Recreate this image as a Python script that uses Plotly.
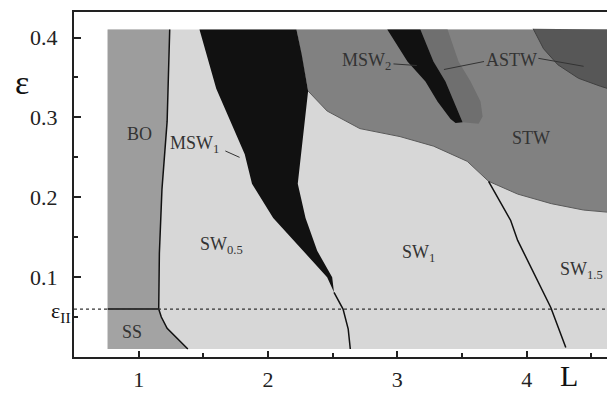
import plotly.graph_objects as go

# ---- region limits (L, epsilon) ----
L_LEFT, L_RIGHT = 0.76, 4.65
EPS_BOTTOM, EPS_TOP = 0.01, 0.41
EPS_II = 0.06

# ---- axis ticks ----
x_ticks = [1, 2, 3, 4]
x_tick_text = ["1", "2", "3", "4"]
x_minor = [1.5, 2.5, 3.5, 4.5]
y_ticks = [0.1, 0.2, 0.3, 0.4]
y_tick_text = ["0.1", "0.2", "0.3", "0.4"]
y_minor = [0.05, 0.15, 0.25, 0.35]

# ---- boundaries ----
bo_L = [1.24, 1.22, 1.18, 1.16, 1.155]
bo_eps = [0.41, 0.295, 0.21, 0.13, 0.06]

ss_L = [1.155, 1.175, 1.22, 1.38]
ss_eps = [0.06, 0.05, 0.036, 0.01]

msw1_left_L = [1.47, 1.60, 1.82, 1.876, 2.04, 2.27, 2.457, 2.51]
msw1_left_eps = [0.41, 0.336, 0.254, 0.217, 0.174, 0.133, 0.10, 0.081]
msw1_right_L = [2.22, 2.26, 2.31, 2.28, 2.25, 2.23, 2.29, 2.38, 2.496, 2.51]
msw1_right_eps = [0.41, 0.379, 0.333, 0.295, 0.245, 0.217, 0.174, 0.133, 0.10, 0.081]

sw1_line_L = [2.51, 2.55, 2.58, 2.62, 2.636]
sw1_line_eps = [0.081, 0.07, 0.06, 0.035, 0.01]

stw_L = [2.31, 2.457, 2.71, 3.02, 3.28, 3.54, 3.705, 3.93, 4.19, 4.44, 4.65]
stw_eps = [0.333, 0.308, 0.286, 0.276, 0.264, 0.245, 0.220, 0.204, 0.192, 0.184, 0.181]

sw15_line_L = [3.705, 3.876, 3.93, 4.054, 4.186, 4.302]
sw15_line_eps = [0.220, 0.171, 0.146, 0.105, 0.062, 0.012]

dark_L = [4.05, 4.13, 4.24, 4.40, 4.57, 4.65]
dark_eps = [0.411, 0.386, 0.366, 0.349, 0.339, 0.335]

msw2_left_L = [2.922, 3.078, 3.217, 3.310, 3.411, 3.45]
msw2_left_eps = [0.41, 0.370, 0.345, 0.320, 0.298, 0.293]
msw2_right_L = [3.178, 3.279, 3.372, 3.434, 3.504]
msw2_right_eps = [0.41, 0.370, 0.345, 0.320, 0.294]

astw_right_L = [3.388, 3.473, 3.566, 3.643, 3.659, 3.628]
astw_right_eps = [0.41, 0.370, 0.345, 0.320, 0.301, 0.292]

# ---- labels ----
region_labels = ["BO", "SS", "MSW<sub>1</sub>", "SW<sub>0.5</sub>", "SW<sub>1</sub>",
                 "SW<sub>1.5</sub>", "STW", "MSW<sub>2</sub>", "ASTW"]
label_L = [1.01, 0.95, 1.43, 1.64, 3.16, 4.42, 4.03, 2.76, 3.88]
label_eps = [0.279, 0.031, 0.266, 0.139, 0.13, 0.108, 0.274, 0.370, 0.372]

leader_L = [[1.67, 1.78], [2.97, 3.15], [3.67, 3.36], [4.09, 4.44]]
leader_eps = [[0.258, 0.250], [0.367, 0.365], [0.370, 0.360], [0.374, 0.364]]

C_SW = "#d7d7d7"
C_BO = "#9d9d9d"
C_SS = "#a3a3a3"
C_STW = "#818181"
C_DARK = "#575757"
C_ASTW = "#6f6f6f"
C_BLACK = "#111111"

fig = go.Figure()


def poly(xs, ys, color):
    fig.add_trace(go.Scatter(x=xs, y=ys, mode="lines", fill="toself", fillcolor=color,
                             line=dict(width=0, color=color), hoverinfo="skip", showlegend=False))


def line(xs, ys, color="#111111", width=1.5):
    fig.add_trace(go.Scatter(x=xs, y=ys, mode="lines", line=dict(color=color, width=width),
                             hoverinfo="skip", showlegend=False))


poly([L_LEFT, L_RIGHT, L_RIGHT, L_LEFT], [EPS_BOTTOM, EPS_BOTTOM, EPS_TOP, EPS_TOP], C_SW)
poly([L_LEFT] + bo_L + [L_LEFT], [EPS_TOP] + bo_eps + [EPS_II], C_BO)
poly([L_LEFT] + ss_L + [L_LEFT], [EPS_II] + ss_eps + [EPS_BOTTOM], C_SS)
poly([2.22] + stw_L + [L_RIGHT], [EPS_TOP] + stw_eps + [EPS_TOP], C_STW)
poly(dark_L + [L_RIGHT], dark_eps + [EPS_TOP], C_DARK)
poly(msw1_left_L + msw1_right_L[::-1], msw1_left_eps + msw1_right_eps[::-1], C_BLACK)
poly(msw2_right_L + astw_right_L[::-1], msw2_right_eps + astw_right_eps[::-1], C_ASTW)
poly(msw2_left_L + msw2_right_L[::-1], msw2_left_eps + msw2_right_eps[::-1], C_BLACK)

line(stw_L, stw_eps, "#5a5a5a", 1)
line(dark_L, dark_eps, "#404040", 1)
line(bo_L, bo_eps)
line(ss_L, ss_eps)
line([L_LEFT, bo_L[-1]], [EPS_II, EPS_II])
line(sw1_line_L, sw1_line_eps)
line(sw15_line_L, sw15_line_eps)

for lx, ly in zip(leader_L, leader_eps):
    line(lx, ly, "#333333", 1)

for txt, lx, ly in zip(region_labels, label_L, label_eps):
    fig.add_annotation(x=lx, y=ly, text=txt, showarrow=False,
                       font=dict(family="Liberation Serif", size=18, color="#333333"))

fig.add_shape(type="line", xref="paper", x0=0, x1=1, yref="y", y0=EPS_II, y1=EPS_II,
              line=dict(color="#333333", width=1.2, dash="dot"))

fig.add_annotation(xref="paper", x=-0.096, xanchor="center", yref="y", y=0.344, yanchor="middle",
                   text="ε", showarrow=False,
                   font=dict(family="Liberation Serif", size=34, color="#111111"))
fig.add_annotation(xref="paper", x=0, xanchor="right", xshift=-1, yref="y", y=EPS_II,
                   yanchor="middle", yshift=-3,
                   text="ε<sub>II</sub>", showarrow=False,
                   font=dict(family="Liberation Serif", size=22, color="#111111"))
fig.add_annotation(xref="x", x=4.33, xanchor="center", yref="paper", y=-0.055, yanchor="middle",
                   text="L", showarrow=False,
                   font=dict(family="Liberation Serif", size=30, color="#111111"))

axis_font = dict(family="Liberation Serif", size=22, color="#222222")
fig.update_xaxes(range=[0.5, 4.667], tickvals=x_ticks, ticktext=x_tick_text,
                 ticks="inside", ticklen=6, tickwidth=1.5, tickcolor="#222222",
                 minor=dict(tickvals=x_minor, ticks="inside", ticklen=4, tickwidth=1.5, tickcolor="#222222"),
                 showline=True, mirror=True, linecolor="#222222", linewidth=2,
                 showgrid=False, zeroline=False, tickfont=axis_font, ticklabelstandoff=2)
fig.update_yaxes(range=[0, 0.432], tickvals=y_ticks, ticktext=y_tick_text,
                 ticks="inside", ticklen=7, tickwidth=1.5, tickcolor="#222222",
                 minor=dict(tickvals=y_minor, ticks="inside", ticklen=4, tickwidth=1.5, tickcolor="#222222"),
                 showline=True, mirror=True, linecolor="#222222", linewidth=2,
                 showgrid=False, zeroline=False, tickfont=axis_font, ticklabelstandoff=10)

# page body has an 8px default margin: plot area is placed so it lands at x 74..613, y 10..357
fig.update_layout(width=615, height=393, margin=dict(l=66, r=10, t=2, b=44),
                  paper_bgcolor="white", plot_bgcolor="white", showlegend=False)

fig.write_html("out.html")
